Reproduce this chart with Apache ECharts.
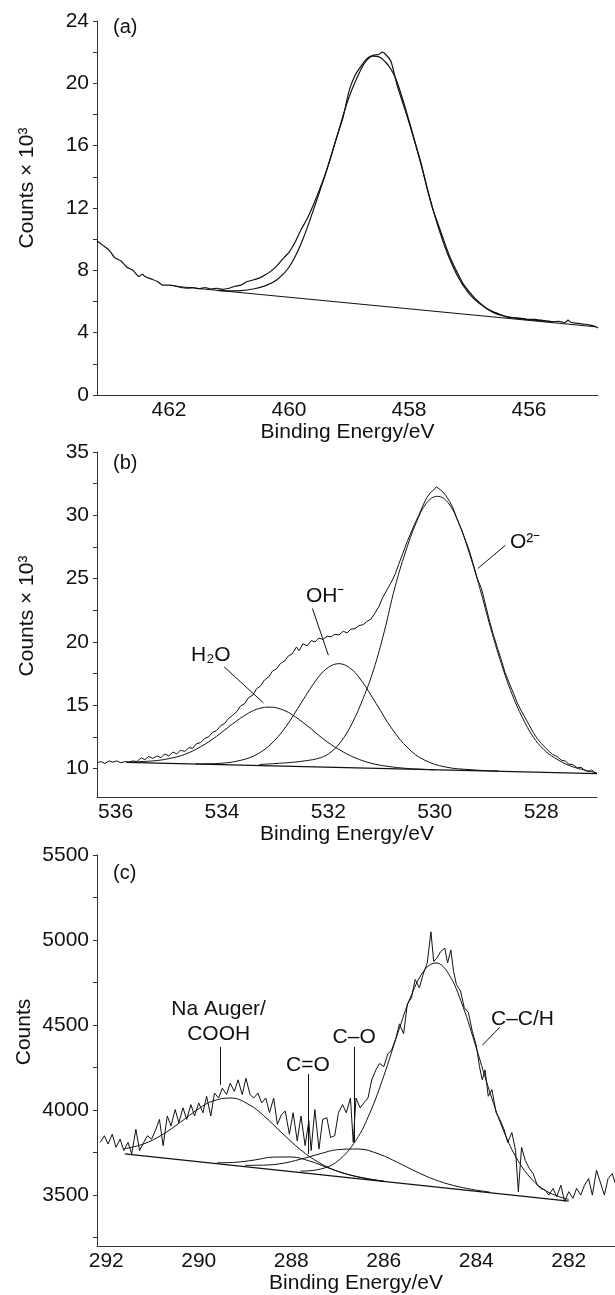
<!DOCTYPE html>
<html>
<head>
<meta charset="utf-8">
<script src="https://cdn.jsdelivr.net/npm/echarts@6/dist/echarts.min.js"></script>
<style>
  html, body { margin: 0; padding: 0; background: #fff; }
  #main { width: 615px; height: 1295px; }
</style>
</head>
<body>
<div id="main"></div>
<script>
// ---- panel (a): Ti 2p region, counts x 10^3 ----
var aSpectrum = [
  [463.2, 9.9], [463.1, 9.6], [463.0, 9.3], [462.9, 8.8], [462.8, 8.6], [462.7, 8.2], [462.6, 8.0],
  [462.5, 7.6], [462.45, 7.75], [462.4, 7.6], [462.3, 7.45], [462.2, 7.3], [462.1, 7.05], [462.0, 7.05],
  [461.9, 7.0], [461.8, 6.9], [461.7, 6.85], [461.6, 6.9], [461.5, 6.82], [461.4, 6.9], [461.3, 6.8],
  [461.2, 6.85], [461.1, 6.78], [461.0, 6.85], [460.9, 6.98], [460.8, 7.05], [460.7, 7.28], [460.6, 7.38],
  [460.5, 7.5], [460.4, 7.7], [460.3, 7.95], [460.2, 8.3], [460.1, 8.75], [460.0, 9.15], [459.9, 9.8],
  [459.8, 10.6], [459.7, 11.3], [459.6, 12.15], [459.5, 13.1], [459.4, 14.1], [459.3, 15.3], [459.2, 16.6],
  [459.1, 17.8], [459.0, 19.5], [458.9, 20.5], [458.8, 21.1], [458.7, 21.6], [458.6, 21.8], [458.5, 21.85],
  [458.45, 22.0], [458.4, 21.9], [458.3, 21.4], [458.2, 19.9], [458.1, 18.7], [458.0, 17.5], [457.9, 16.2],
  [457.8, 14.9], [457.7, 13.3], [457.6, 11.9], [457.5, 10.8], [457.4, 9.7], [457.3, 8.7], [457.2, 7.9],
  [457.1, 7.15], [457.0, 6.65], [456.9, 6.2], [456.8, 5.85], [456.7, 5.55], [456.6, 5.35], [456.5, 5.2],
  [456.4, 5.05], [456.3, 4.97], [456.2, 4.95], [456.1, 4.9], [456.0, 4.85], [455.9, 4.85], [455.8, 4.8],
  [455.7, 4.75], [455.6, 4.7], [455.5, 4.72], [455.4, 4.65], [455.35, 4.8], [455.3, 4.65], [455.2, 4.6],
  [455.1, 4.55], [455.0, 4.5], [454.9, 4.4], [454.85, 4.3]
];
var aFit = [
  [461.2, 6.72], [461.0, 6.68], [460.8, 6.7], [460.6, 6.8], [460.4, 7.0], [460.2, 7.4], [460.0, 8.2],
  [459.8, 9.7], [459.6, 11.8], [459.4, 14.1], [459.2, 16.6], [459.0, 19.1], [458.8, 20.9], [458.7, 21.5],
  [458.6, 21.75], [458.5, 21.7], [458.4, 21.4], [458.3, 20.9], [458.2, 20.1], [458.0, 17.6], [457.8, 14.8],
  [457.6, 11.9], [457.4, 9.5], [457.2, 7.7], [457.0, 6.5], [456.8, 5.8], [456.6, 5.3], [456.4, 5.05],
  [456.2, 4.92], [456.0, 4.83], [455.8, 4.76], [455.6, 4.7]
];
var aBackground = [[461.9, 6.98], [454.9, 4.38]];
var aCountTicks = [0, 4, 8, 12, 16, 20, 24];
var aTickMarks = [0, 2, 4, 6, 8, 10, 12, 14, 16, 18, 20, 22, 24];
var aEnergyTicks = [462, 460, 458, 456];

// ---- panel (b): O 1s region ----
var bSpectrum = [
  [536.35, 10.45], [536.28, 10.55], [536.2, 10.4], [536.12, 10.6], [536.05, 10.5], [535.98, 10.6],
  [535.9, 10.45], [535.82, 10.55], [535.75, 10.5], [535.68, 10.6], [535.6, 10.55], [535.52, 10.85],
  [535.45, 10.7], [535.38, 10.95], [535.3, 10.8], [535.22, 11.0], [535.15, 10.85], [535.08, 11.15],
  [535.0, 11.0], [534.92, 11.3], [534.85, 11.15], [534.78, 11.45], [534.7, 11.35], [534.62, 11.65],
  [534.55, 11.6], [534.48, 11.95], [534.4, 12.05], [534.32, 12.4], [534.25, 12.5], [534.18, 12.85],
  [534.1, 13.0], [534.02, 13.4], [533.95, 13.55], [533.88, 13.95], [533.8, 14.2], [533.72, 14.5],
  [533.65, 14.95], [533.58, 15.1], [533.5, 15.6], [533.42, 15.8], [533.35, 16.3], [533.28, 16.5],
  [533.2, 17.0], [533.12, 17.25], [533.05, 17.7], [532.98, 17.85], [532.9, 18.3], [532.82, 18.5],
  [532.75, 18.9], [532.68, 19.05], [532.6, 19.6], [532.55, 19.3], [532.48, 19.85], [532.4, 19.7],
  [532.32, 20.1], [532.25, 20.0], [532.18, 20.3], [532.1, 20.2], [532.02, 20.45], [531.95, 20.4],
  [531.88, 20.6], [531.8, 20.55], [531.72, 20.85], [531.65, 20.7], [531.58, 21.0], [531.5, 21.05],
  [531.42, 21.3], [531.35, 21.35], [531.28, 21.6], [531.2, 21.8], [531.12, 22.3], [531.05, 22.8],
  [530.98, 23.5], [530.9, 24.1], [530.82, 24.7], [530.75, 25.3], [530.68, 26.1], [530.6, 27.0],
  [530.52, 27.9], [530.45, 28.6], [530.38, 29.3], [530.3, 30.0], [530.22, 30.8], [530.15, 31.4],
  [530.08, 31.8], [530.02, 32.0], [529.97, 32.25], [529.92, 32.1], [529.86, 31.9], [529.8, 31.6],
  [529.72, 31.1], [529.65, 30.5], [529.58, 29.7], [529.5, 28.9], [529.42, 28.0], [529.35, 27.2],
  [529.28, 26.2], [529.2, 25.0], [529.12, 24.2], [529.05, 23.0], [528.98, 21.8], [528.9, 20.6],
  [528.82, 19.5], [528.75, 18.6], [528.68, 17.6], [528.6, 16.75], [528.52, 15.95], [528.45, 15.2],
  [528.38, 14.6], [528.3, 14.0], [528.22, 13.4], [528.15, 12.85], [528.08, 12.4], [528.0, 12.0],
  [527.92, 11.65], [527.85, 11.35], [527.78, 11.1], [527.7, 10.95], [527.62, 10.65], [527.55, 10.6],
  [527.48, 10.35], [527.4, 10.3], [527.32, 10.05], [527.25, 10.1], [527.18, 9.85], [527.1, 9.75],
  [527.05, 9.9], [526.98, 9.6], [526.95, 9.65]
];
var bH2O = [
  [535.8, 10.5], [535.3, 10.6], [535.0, 10.78], [534.7, 11.12], [534.4, 11.72], [534.1, 12.55],
  [533.8, 13.53], [533.5, 14.38], [533.3, 14.74], [533.1, 14.85], [532.9, 14.7], [532.7, 14.3],
  [532.4, 13.39], [532.1, 12.35], [531.8, 11.5], [531.5, 10.85], [531.2, 10.42], [530.9, 10.18],
  [530.5, 10.0], [530.0, 9.9]
];
var bOH = [
  [534.5, 10.36], [534.0, 10.42], [533.7, 10.6], [533.4, 11.0], [533.1, 11.85], [532.8, 13.3],
  [532.5, 15.26], [532.2, 17.15], [532.0, 17.99], [531.8, 18.28], [531.6, 17.95], [531.4, 17.07],
  [531.1, 15.12], [530.8, 13.11], [530.5, 11.6], [530.2, 10.68], [529.8, 10.12], [529.3, 9.9], [528.8, 9.8]
];
var bO2 = [
  [533.3, 10.32], [532.8, 10.45], [532.45, 10.6], [532.15, 10.85], [531.95, 11.3], [531.75, 12.2],
  [531.55, 13.6], [531.35, 15.5], [531.15, 17.8], [530.95, 20.8], [530.75, 24.3], [530.55, 27.1],
  [530.35, 29.4], [530.15, 31.0], [529.95, 31.5], [529.75, 31.0], [529.55, 29.4], [529.35, 27.0],
  [529.15, 24.2], [528.95, 21.1], [528.75, 18.3], [528.55, 15.9], [528.35, 14.0], [528.15, 12.5],
  [527.95, 11.5], [527.75, 10.85], [527.45, 10.2], [527.15, 9.85], [526.95, 9.65]
];
var bBackground = [[535.8, 10.48], [526.95, 9.6]];
var bCountTicks = [10, 15, 20, 25, 30, 35];
var bTickMarks = [7.5, 10, 12.5, 15, 17.5, 20, 22.5, 25, 27.5, 30, 32.5, 35];
var bEnergyTicks = [536, 534, 532, 530, 528];
// label text, x, y
var bNotes = [['H₂O', 534.21, 18.95], ['OH⁻', 532.06, 23.63], ['O²⁻', 528.3, 27.9]];
// leader x1, y1, x2, y2
var bLeaders = [[533.96, 18.03, 533.22, 15.18], [532.3, 22.64, 532.0, 18.95], [528.67, 27.64, 529.19, 25.8]];

// ---- panel (c): C 1s region, counts ----
var cSpectrum = [
  [292.13, 3810], [292.04, 3849], [291.96, 3800], [291.87, 3858], [291.79, 3781], [291.70, 3829],
  [291.62, 3762], [291.53, 3810], [291.45, 3742], [291.36, 3887], [291.28, 3762], [291.19, 3810],
  [291.11, 3849], [291.02, 3829], [290.94, 3878], [290.85, 3945], [290.77, 3791], [290.68, 3965],
  [290.60, 3907], [290.51, 4003], [290.43, 3926], [290.34, 4013], [290.26, 3945], [290.17, 4032],
  [290.09, 3965], [290.00, 4042], [289.91, 3984], [289.83, 4081], [289.74, 3965], [289.66, 4100],
  [289.57, 4071], [289.49, 4129], [289.40, 4091], [289.32, 4158], [289.23, 4110], [289.15, 4178],
  [289.06, 4091], [288.98, 4187], [288.89, 4091], [288.81, 4071], [288.72, 4100], [288.64, 4042],
  [288.55, 4071], [288.47, 3984], [288.38, 4071], [288.30, 3916], [288.21, 3974], [288.13, 3994],
  [288.04, 3858], [287.96, 3984], [287.87, 3819], [287.79, 3965], [287.70, 3791], [287.62, 3936],
  [287.57, 3762], [287.49, 4003], [287.40, 3771], [287.32, 3945], [287.23, 3955], [287.15, 3839],
  [287.06, 3849], [286.98, 3984], [286.89, 4032], [286.81, 3984], [286.72, 4071], [286.66, 3810],
  [286.60, 4071], [286.51, 4013], [286.43, 4042], [286.34, 4071], [286.26, 4178], [286.17, 4236],
  [286.09, 4274], [286.00, 4255], [285.91, 4332], [285.83, 4352], [285.74, 4420], [285.66, 4507],
  [285.57, 4449], [285.49, 4623], [285.40, 4661], [285.32, 4768], [285.23, 4719], [285.15, 4797],
  [285.06, 4865], [284.98, 5048], [284.92, 4874], [284.85, 4894], [284.77, 4932], [284.68, 4952],
  [284.62, 4865], [284.55, 4942], [284.49, 4816], [284.43, 4739], [284.34, 4700], [284.26, 4603],
  [284.17, 4574], [284.09, 4468], [284.00, 4381], [283.93, 4255], [283.87, 4178], [283.81, 4236],
  [283.74, 4081], [283.66, 4120], [283.57, 3984], [283.49, 3945], [283.40, 3887], [283.32, 3810],
  [283.23, 3868], [283.15, 3762], [283.09, 3520], [283.02, 3781], [282.94, 3704], [282.85, 3655],
  [282.77, 3626], [282.68, 3558], [282.60, 3539], [282.51, 3529], [282.43, 3500], [282.34, 3539],
  [282.26, 3491], [282.17, 3558], [282.09, 3462], [282.00, 3520], [281.91, 3481], [281.83, 3539],
  [281.74, 3500], [281.66, 3558], [281.57, 3597], [281.49, 3500], [281.40, 3646], [281.32, 3578],
  [281.23, 3500], [281.15, 3597], [281.06, 3626], [280.98, 3558]
];
var cCOOH = [
  [291.6, 3773], [291.2, 3800], [290.8, 3853], [290.4, 3928], [290.0, 4008], [289.7, 4053],
  [289.3, 4071], [288.9, 4030], [288.6, 3968], [288.2, 3865], [287.8, 3767], [287.4, 3691],
  [287.0, 3640], [286.6, 3610], [286.0, 3581]
];
var cCdO = [
  [289.6, 3690], [289.2, 3693], [288.8, 3706], [288.4, 3723], [288.0, 3724], [287.6, 3700],
  [287.2, 3660], [286.8, 3624], [286.4, 3598], [286.0, 3582]
];
var cCO = [
  [289.0, 3675], [288.6, 3676], [288.2, 3686], [287.8, 3711], [287.4, 3741], [287.0, 3767],
  [286.55, 3771], [286.1, 3741], [285.7, 3692], [285.3, 3638], [284.9, 3591], [284.5, 3557],
  [284.1, 3534], [283.7, 3517]
];
var cCC = [
  [287.8, 3641], [287.4, 3651], [287.0, 3699], [286.6, 3823], [286.3, 3983], [286.0, 4200],
  [285.7, 4449], [285.4, 4678], [285.1, 4830], [284.87, 4865], [284.6, 4802], [284.3, 4618],
  [284.0, 4366], [283.7, 4100], [283.4, 3872], [283.1, 3704], [282.8, 3593], [282.5, 3526],
  [282.2, 3490], [282.0, 3475]
];
var cBackground = [[291.6, 3742], [282.0, 3465]];
var cCountTicks = [3500, 4000, 4500, 5000, 5500];
var cTickMarks = [3250, 3500, 3750, 4000, 4250, 4500, 4750, 5000, 5250, 5500];
var cEnergyTicks = [292, 290, 288, 286, 284, 282];
var cNotes = [['Na Auger/', 289.57, 4594], ['COOH', 289.57, 4449], ['C=O', 287.64, 4265],
  ['C–O', 286.64, 4429], ['C–C/H', 283.0, 4536]];
var cLeaders = [[289.53, 4371, 289.53, 4149], [287.63, 4212, 287.63, 3742],
  [286.64, 4371, 286.64, 3810], [283.49, 4487, 283.87, 4381]];

var FONT = '"Liberation Sans", Arial, Helvetica, sans-serif';
var INK = '#111';

var chart = echarts.init(document.getElementById('main'));

function xAxisOf(k, min, max, ticks, gap) {
  return {
    gridIndex: k, type: 'value', inverse: true, min: min, max: max,
    axisLine: { show: true, onZero: false, lineStyle: { color: '#333', width: 1 } },
    axisTick: { show: false },
    splitLine: { show: false },
    axisLabel: { customValues: ticks, fontSize: 21, color: INK, fontFamily: FONT, margin: 5,
      formatter: function (v) { return String(v); } },
    name: 'Binding Energy/eV', nameLocation: 'middle', nameGap: gap,
    nameTextStyle: { fontSize: 21, color: INK, fontFamily: FONT }
  };
}

function yAxisOf(k, min, max, ticks, marks) {
  return {
    gridIndex: k, type: 'value', min: min, max: max,
    axisLine: { show: true, onZero: false, lineStyle: { color: '#333', width: 1 } },
    axisTick: { show: true, customValues: marks, length: 4, lineStyle: { color: '#333' } },
    splitLine: { show: false },
    axisLabel: { customValues: ticks, fontSize: 21, color: INK, fontFamily: FONT, margin: 8,
      formatter: function (v) { return String(v); } }
  };
}

function curve(k, data, width, smooth) {
  return {
    type: 'line', xAxisIndex: k, yAxisIndex: k, data: data,
    showSymbol: false, symbol: 'none', smooth: smooth, silent: true,
    lineStyle: { color: INK, width: width }
  };
}

// background line also carries the labels and leader lines of its panel
function background(k, data, notes, leaders) {
  var s = curve(k, data, 1.2, false);
  s.markLine = {
    silent: true, symbol: ['none', 'none'], label: { show: false },
    lineStyle: { color: INK, width: 1, type: 'solid' },
    data: leaders.map(function (l) { return [{ coord: [l[0], l[1]] }, { coord: [l[2], l[3]] }]; })
  };
  s.markPoint = {
    silent: true, symbol: 'circle', symbolSize: 0,
    itemStyle: { color: 'rgba(0,0,0,0)' },
    label: { show: true, position: 'inside', fontSize: 21, color: INK, fontFamily: FONT },
    data: notes.map(function (n) { return { coord: [n[1], n[2]], label: { formatter: n[0] } }; })
  };
  return s;
}

var option = {
  animation: false,
  backgroundColor: '#fff',
  grid: [
    { left: 97, top: 21, width: 501, height: 374 },
    { left: 97, top: 452, width: 500, height: 345 },
    { left: 97, top: 855, width: 518, height: 393 }
  ],
  xAxis: [
    xAxisOf(0, 454.85, 463.2, aEnergyTicks, 24),
    xAxisOf(1, 526.95, 536.35, bEnergyTicks, 24),
    xAxisOf(2, 281.0, 292.2, cEnergyTicks, 26)
  ],
  yAxis: [
    yAxisOf(0, 0, 24, aCountTicks, aTickMarks),
    yAxisOf(1, 7.75, 35, bCountTicks, bTickMarks),
    yAxisOf(2, 3200, 5500, cCountTicks, cTickMarks)
  ],
  graphic: [
    { type: 'text', x: 27, y: 188, rotation: Math.PI / 2,
      style: { text: 'Counts × 10³', font: '21px ' + FONT, fill: INK, align: 'center', verticalAlign: 'middle' } },
    { type: 'text', x: 27, y: 616, rotation: Math.PI / 2,
      style: { text: 'Counts × 10³', font: '21px ' + FONT, fill: INK, align: 'center', verticalAlign: 'middle' } },
    { type: 'text', x: 24, y: 1032, rotation: Math.PI / 2,
      style: { text: 'Counts', font: '21px ' + FONT, fill: INK, align: 'center', verticalAlign: 'middle' } },
    { type: 'text', x: 113, y: 27, style: { text: '(a)', font: '20px ' + FONT, fill: INK, verticalAlign: 'middle' } },
    { type: 'text', x: 113, y: 463, style: { text: '(b)', font: '20px ' + FONT, fill: INK, verticalAlign: 'middle' } },
    { type: 'text', x: 113, y: 873, style: { text: '(c)', font: '20px ' + FONT, fill: INK, verticalAlign: 'middle' } }
  ],
  series: [
    curve(0, aSpectrum, 1.2, 0.2),
    curve(0, aFit, 1.2, 0.4),
    background(0, aBackground, [], []),

    curve(1, bSpectrum, 1, false),
    curve(1, bH2O, 1, 0.4),
    curve(1, bOH, 1, 0.4),
    curve(1, bO2, 1, 0.4),
    background(1, bBackground, bNotes, bLeaders),

    curve(2, cSpectrum, 1, false),
    curve(2, cCOOH, 1, 0.4),
    curve(2, cCdO, 1, 0.4),
    curve(2, cCO, 1, 0.4),
    curve(2, cCC, 1, 0.4),
    background(2, cBackground, cNotes, cLeaders)
  ]
};

chart.setOption(option);
</script>
</body>
</html>
